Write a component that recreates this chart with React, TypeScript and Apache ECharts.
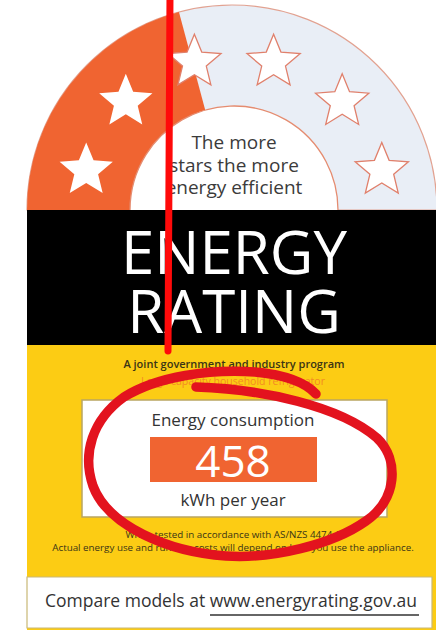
import React, { useEffect, useRef } from "react";
import * as echarts from "echarts";

// ---- Label content ----
const STAR_COUNT = 6;
const STAR_RATING = 2.5;
const CONSUMPTION = 458;
const CONSUMPTION_TITLE = "Energy consumption";
const CONSUMPTION_UNIT = "kWh per year";
const HEADLINE = ["ENERGY", "RATING"];
const ARC_TEXT = ["The more", "stars the more", "energy efficient"];
const PROGRAM_TEXT = "A joint government and industry program";
const PRODUCT_TEXT = "Large capacity household refrigerator";
const NOTE_LINES = [
  "When tested in accordance with AS/NZS 4474.1",
  "Actual energy use and running costs will depend on how you use the appliance.",
];
const COMPARE_PREFIX = "Compare models at ";
const COMPARE_URL = "www.energyrating.gov.au";

const W = 436;
const H = 630;

// hand-drawn red loop (annotation)
const LOOP_D =
  "M 196 387 C 262 389 340 406 377 438 C 400 460 397 500 366 521 C 332 545 272 559 226 556 C 168 552 108 526 93 486 C 82 454 92 420 124 397 C 158 376 210 369 255 372 C 287 375 306 383 316 394";

let registered = false;
function registerShapes() {
  if (registered) return;
  registered = true;
  echarts.graphic.registerShape("loop", echarts.graphic.extendPath(LOOP_D, {}) as any);
}

function starPoints(cx: number, cy: number, R: number, r: number) {
  const pts: number[][] = [];
  for (let k = 0; k < 10; k++) {
    const a = -Math.PI / 2 + (k * Math.PI) / 5;
    const rad = k % 2 === 0 ? R : r;
    pts.push([cx + rad * Math.cos(a), cy + rad * Math.sin(a)]);
  }
  return pts;
}

function txt(
  text: string,
  x: number,
  y: number,
  size: number,
  fill: string,
  weight: any = 400,
  z = 20,
  lineHeight?: number
) {
  return {
    type: "text",
    x,
    y,
    z,
    style: {
      text,
      fill,
      fontSize: size,
      fontWeight: weight,
      fontFamily: "Open Sans",
      lineHeight: lineHeight ?? Math.round(size * 1.05),
      textAlign: "center",
      align: "center",
      textVerticalAlign: "middle",
      verticalAlign: "middle",
    },
  };
}

export default function App() {
  const ref = useRef<HTMLDivElement>(null);

  useEffect(() => {
    if (!ref.current) return;
    registerShapes();
    const chart = echarts.init(ref.current, null, { renderer: "svg" });

    const cx = 232;
    const cy = 210;
    const outerR = 205;
    const innerR = 104;
    const orange = "#f06431";
    const yellow = "#fccc14";
    const stepDeg = 180 / STAR_COUNT;
    const fillDeg = STAR_RATING * stepDeg;

    const elements: any[] = [];

    // semicircle background
    elements.push({
      type: "sector",
      z: 1,
      shape: { cx, cy, r: outerR, r0: 0, startAngle: Math.PI, endAngle: 2 * Math.PI, clockwise: true },
      style: { fill: "#e9eef6", stroke: "#e2a291", lineWidth: 1.2 },
    });
    // orange rating fill
    elements.push({
      type: "sector",
      z: 2,
      shape: {
        cx,
        cy,
        r: outerR,
        r0: 0,
        startAngle: Math.PI,
        endAngle: Math.PI + (fillDeg * Math.PI) / 180,
        clockwise: true,
      },
      style: { fill: orange },
    });
    // stars
    for (let i = 0; i < STAR_COUNT; i++) {
      const phi = ((stepDeg / 2 + i * stepDeg) * Math.PI) / 180;
      const sx = 234 - 153 * Math.cos(phi);
      const sy = cy - 153 * Math.sin(phi);
      const outlined = i >= Math.floor(STAR_RATING);
      elements.push({
        type: "polygon",
        z: 3,
        shape: { points: starPoints(sx, sy, 28, 12.5) },
        style: outlined
          ? { fill: "#ffffff", stroke: "#e0806c", lineWidth: 1.3 }
          : { fill: "#ffffff" },
      });
    }
    // inner circle
    elements.push({
      type: "circle",
      z: 4,
      shape: { cx: 234, cy, r: innerR },
      style: { fill: "#ffffff", stroke: "#e58c70", lineWidth: 1.3 },
    });
    elements.push(txt(ARC_TEXT.join("\n"), 234, 164.5, 19, "#3b3b3b", 400, 5, 22.5));

    // black band
    elements.push({
      type: "rect",
      z: 6,
      shape: { x: 27, y: 210, width: W - 27, height: 135 },
      style: { fill: "#000000" },
    });
    elements.push(txt(HEADLINE.join("\n"), 234, 280.5, 60, "#ffffff", 400, 7, 59));

    // yellow panel
    elements.push({
      type: "rect",
      z: 6,
      shape: { x: 27, y: 345, width: W - 27, height: H - 345 },
      style: { fill: yellow },
    });
    elements.push(txt(PROGRAM_TEXT, 234, 363, 11, "#3a3416", 600, 7));
    elements.push(txt(PRODUCT_TEXT, 233, 381, 10.5, "rgba(242,120,40,0.8)", 400, 7));

    // consumption box
    elements.push({
      type: "rect",
      z: 7,
      shape: { x: 82, y: 400, width: 305, height: 117 },
      style: { fill: "#ffffff", stroke: "#b9a560", lineWidth: 1.5 },
    });
    elements.push(txt(CONSUMPTION_TITLE, 233, 419, 17, "#333333", 400, 8));
    elements.push({
      type: "rect",
      z: 8,
      shape: { x: 150, y: 437, width: 167, height: 45 },
      style: { fill: orange },
    });
    elements.push(txt(String(CONSUMPTION), 233, 460, 44, "#ffffff", 400, 9, 44));
    elements.push(txt(CONSUMPTION_UNIT, 233, 499, 17, "#333333", 400, 8));

    elements.push(txt(NOTE_LINES.join("\n"), 233, 540.5, 9.8, "#3a3416", 400, 8, 13));

    // compare box
    elements.push({
      type: "rect",
      z: 7,
      shape: { x: 27, y: 577, width: 405, height: 51 },
      style: { fill: "#ffffff", stroke: "#c9b876", lineWidth: 1.2 },
    });
    elements.push(txt(COMPARE_PREFIX + COMPARE_URL, 231, 600, 17.5, "#333333", 400, 8));
    elements.push({
      type: "line",
      z: 8,
      shape: { x1: 210, y1: 615, x2: 419, y2: 615 },
      style: { stroke: "#333333", lineWidth: 1.5 },
    });

    // red annotations
    elements.push({
      type: "line",
      z: 30,
      shape: { x1: 170, y1: -5, x2: 168, y2: 351 },
      style: { stroke: "#ff0a0a", lineWidth: 7, lineCap: "round" },
    });
    elements.push({
      type: "loop",
      z: 30,
      x: 0,
      y: 0,
      style: { fill: "none", stroke: "#e3131e", lineWidth: 9.5, lineCap: "round", lineJoin: "round" },
    });

    chart.setOption({
      animation: false,
      backgroundColor: "#ffffff",
      graphic: { elements },
    });

    return () => chart.dispose();
  }, []);

  return (
    <div
      ref={ref}
      style={{ position: "absolute", left: 0, top: 0, width: W, height: H }}
    />
  );
}
